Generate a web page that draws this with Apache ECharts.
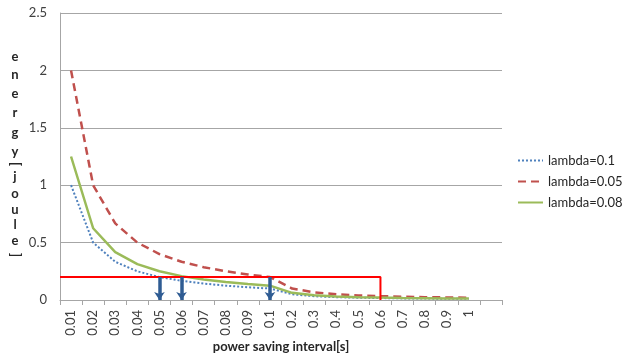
<!DOCTYPE html>
<html>
<head>
<meta charset="utf-8">
<script src="https://cdn.jsdelivr.net/npm/echarts@6/dist/echarts.min.js"></script>
<style>html,body{margin:0;padding:0;background:#fff}#c{width:622px;height:358px}</style>
</head>
<body>
<div id="c"></div>
<script>
var categories = ['0.01','0.02','0.03','0.04','0.05','0.06','0.07','0.08','0.09','0.1','0.2','0.3','0.4','0.5','0.6','0.7','0.8','0.9','1',''];
var lambda01  = [1.0,0.5,0.333,0.25,0.2,0.167,0.143,0.125,0.111,0.1,0.05,0.033,0.025,0.02,0.017,0.014,0.0125,0.011,0.01];
var lambda005 = [2.0,1.0,0.667,0.5,0.4,0.333,0.286,0.25,0.222,0.2,0.1,0.067,0.05,0.04,0.033,0.029,0.025,0.022,0.02];
var lambda008 = [1.25,0.625,0.417,0.3125,0.25,0.208,0.179,0.156,0.139,0.125,0.0625,0.042,0.031,0.025,0.021,0.018,0.016,0.014,0.0125];
var thresholdLevel = 0.2;
var thresholdEndCat = '0.6';
var arrowCats = ['0.05','0.06','0.1'];
var yTitle = 'energy[joule]';
var xTitle = 'power saving interval[s]';

var FONT = 'Lato';
var endIdx = categories.indexOf(thresholdEndCat) + 0.5;
var boxData = [[0, thresholdLevel], [endIdx, thresholdLevel], [endIdx, 0]];
var arrowLines = arrowCats.map(function (c) {
  var x = categories.indexOf(c) + 0.5;
  return [{coord: [x, thresholdLevel]}, {coord: [x, 0]}];
});

// vertical stacked y title
var yPos = [57, 75, 94, 113, 133, 152, 164, 177, 194, 210, 225, 241, 255];
var titleGraphics = yTitle.split('').map(function (ch, i) {
  var br = (ch === '[' || ch === ']');
  return {
    type: 'text', x: 15, y: yPos[i], rotation: br ? -Math.PI / 2 : 0,
    style: {text: ch, fill: '#262626', font: 'bold 13px ' + FONT, textAlign: 'center', textVerticalAlign: 'middle'}
  };
});

var chart = echarts.init(document.getElementById('c'), null, {renderer: 'canvas'});
chart.setOption({
  animation: false,
  backgroundColor: '#ffffff',
  textStyle: {fontFamily: FONT},
  graphic: titleGraphics.concat([{
    type: 'text', x: 281, y: 347,
    style: {text: xTitle, fill: '#262626', font: 'bold 13px ' + FONT, textAlign: 'center', textVerticalAlign: 'middle'}
  }]),
  grid: {left: 60, right: 120, top: 13, bottom: 58},
  legend: {
    data: ['lambda=0.1', 'lambda=0.05', 'lambda=0.08'],
    orient: 'vertical', left: 517, top: 154, padding: 0,
    itemWidth: 25, itemHeight: 14, itemGap: 8,
    itemStyle: {color: 'transparent', borderColor: 'transparent', borderWidth: 0, opacity: 0},
    textStyle: {fontFamily: FONT, fontSize: 13, color: '#262626'}
  },
  xAxis: [{
    type: 'category', data: categories, boundaryGap: true,
    axisLine: {lineStyle: {color: '#a6a6a6', width: 1}},
    axisTick: {show: true, length: 5, lineStyle: {color: '#a6a6a6'}},
    axisLabel: {rotate: 90, interval: 0, margin: 10, fontSize: 13, color: '#404040', fontFamily: FONT},
    splitLine: {show: false}
  }, {
    type: 'value', min: 0, max: categories.length, show: false
  }],
  yAxis: {
    type: 'value', min: 0, max: 2.5, interval: 0.5,
    axisLine: {show: true, lineStyle: {color: '#a6a6a6'}},
    axisTick: {show: false},
    axisLabel: {fontSize: 13, color: '#404040', margin: 13, fontFamily: FONT},
    splitLine: {lineStyle: {color: '#a6a6a6', width: 1}}
  },
  series: [{
    name: 'lambda=0.1', type: 'line', data: lambda01, symbol: 'none', z: 3,
    lineStyle: {color: '#4f81bd', width: 2, type: [2, 2]}, itemStyle: {color: '#4f81bd'}
  }, {
    name: 'lambda=0.05', type: 'line', data: lambda005, symbol: 'none', z: 3,
    lineStyle: {color: '#c0504d', width: 2.5, type: [8, 5]}, itemStyle: {color: '#c0504d'}
  }, {
    name: 'lambda=0.08', type: 'line', data: lambda008, symbol: 'none', z: 3,
    lineStyle: {color: '#9bbb59', width: 2.5}, itemStyle: {color: '#9bbb59'}
  }, {
    name: 'threshold', type: 'line', xAxisIndex: 1, data: boxData, symbol: 'none', z: 4,
    lineStyle: {color: '#ff0000', width: 2}, itemStyle: {color: '#ff0000'},
    markLine: {
      silent: true, symbol: ['none', 'arrow'], symbolSize: 8, z: 5,
      label: {show: false},
      lineStyle: {color: '#2f5c93', width: 3.5, type: 'solid'},
      data: arrowLines
    }
  }]
});
</script>
</body>
</html>
